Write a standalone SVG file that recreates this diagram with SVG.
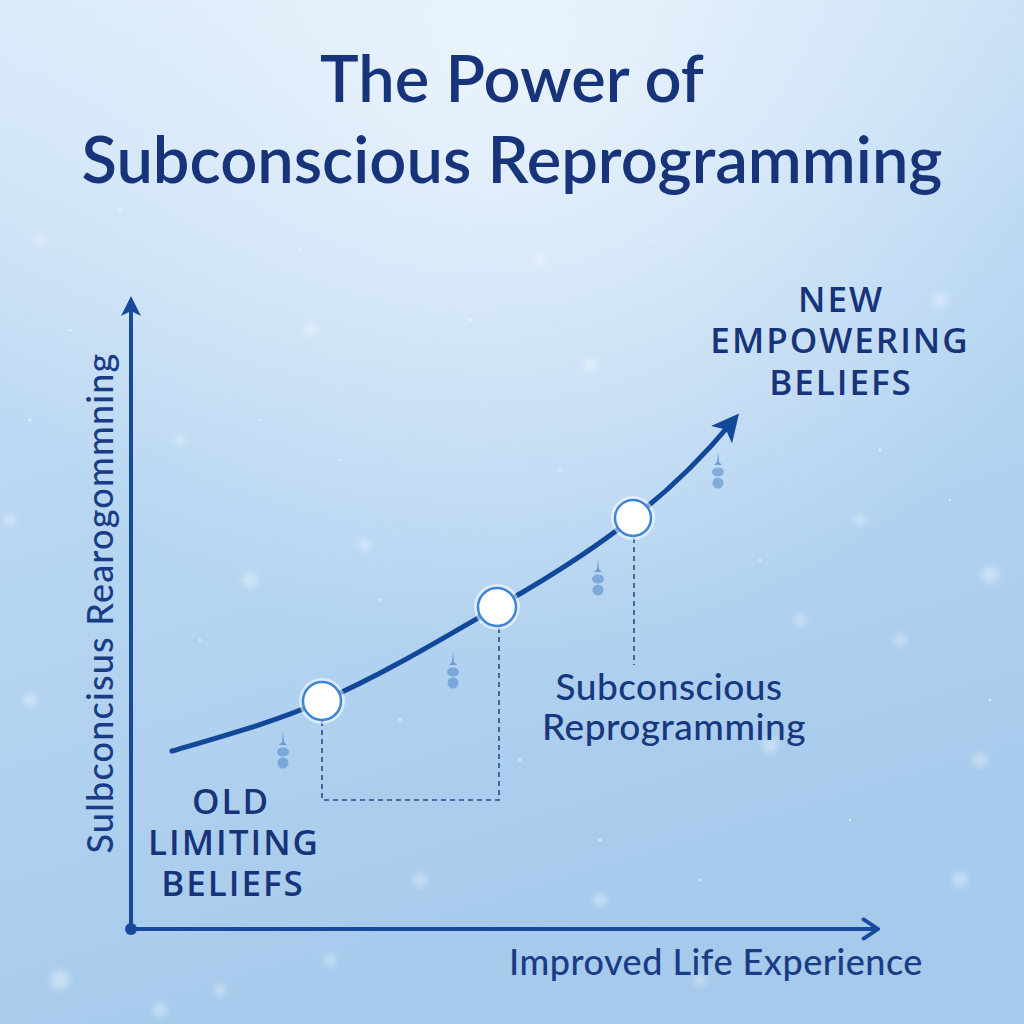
<svg xmlns="http://www.w3.org/2000/svg" width="1024" height="1024" viewBox="0 0 1024 1024">
<defs>
<linearGradient id="bg" x1="0" y1="0" x2="0.3" y2="1">
<stop offset="0" stop-color="#d8e9f9"/>
<stop offset="0.45" stop-color="#b9d7f2"/>
<stop offset="1" stop-color="#a6caec"/>
</linearGradient>
<radialGradient id="glowTop" cx="0.5" cy="0.05" r="0.6">
<stop offset="0" stop-color="#f2f8fe" stop-opacity="0.8"/>
<stop offset="1" stop-color="#f2f8fe" stop-opacity="0"/>
</radialGradient>
<filter id="blur" x="-50%" y="-50%" width="200%" height="200%"><feGaussianBlur stdDeviation="3"/></filter>
<marker id="tri" viewBox="0 0 10 10" refX="5" refY="5" markerWidth="5" markerHeight="5" orient="auto-start-reverse" markerUnits="strokeWidth">
<path d="M0,0 L10,5 L0,10 L2.5,5 Z" fill="#174a9c"/>
</marker>
<marker id="chev" viewBox="0 0 10 10" refX="9" refY="5" markerWidth="6" markerHeight="6" orient="auto" markerUnits="strokeWidth">
<path d="M3,1 L9,5 L3,9" fill="none" stroke="#174a9c" stroke-width="1.6" stroke-linecap="round"/>
</marker>
<marker id="curveHead" viewBox="0 0 10 10" refX="6" refY="5" markerWidth="5.5" markerHeight="5.5" orient="auto" markerUnits="strokeWidth">
<path d="M0,0 L10,5 L0,10 L2.5,5 Z" fill="#12489a"/>
</marker>
<g id="drop">
<path d="M0,-16 L1,-6 L4,-3 L-4,-3 L-1,-6 Z" fill="#4f86c8" opacity="0.7"/>
<ellipse cx="0" cy="4" rx="6" ry="4.5" fill="#4f86c8" opacity="0.55"/>
<circle cx="0" cy="15" r="5.5" fill="#4f86c8" opacity="0.55"/>
</g>
</defs>
<style>
.title{font-family:Lato,"Open Sans","Liberation Sans",sans-serif;font-weight:600;font-size:65px;fill:#17337a;text-anchor:middle}
.cap{font-family:"Open Sans","Liberation Sans",sans-serif;font-weight:600;font-size:35px;letter-spacing:2px;fill:#17337a;text-anchor:middle}
.lbl{font-family:Lato,"Open Sans","Liberation Sans",sans-serif;font-weight:500;font-size:37px;letter-spacing:0.5px;fill:#17377f;text-anchor:middle}
.axis{font-family:Lato,"Open Sans","Liberation Sans",sans-serif;font-weight:500;font-size:36px;fill:#1a3c86}
.ax{stroke:#174a9c;stroke-width:4;fill:none}
.dash{stroke:#2a4b8a;stroke-width:1.6;stroke-dasharray:5 4;fill:none}
.node circle.ring{fill:#ffffff;stroke:#3d86d6;stroke-width:2.5}
.node circle.halo{fill:#ffffff;opacity:0.55}
</style>

<rect width="1024" height="1024" fill="url(#bg)"/>
<rect width="1024" height="1024" fill="url(#glowTop)"/>
<g fill="#ffffff" opacity="0.35" filter="url(#blur)">
<circle cx="40" cy="240" r="6"/><circle cx="250" cy="580" r="8"/><circle cx="365" cy="545" r="6"/>
<circle cx="590" cy="365" r="7"/><circle cx="770" cy="745" r="8"/><circle cx="990" cy="575" r="9"/>
<circle cx="860" cy="520" r="6"/><circle cx="420" cy="880" r="7"/><circle cx="60" cy="980" r="10"/>
<circle cx="960" cy="880" r="8"/><circle cx="700" cy="980" r="6"/><circle cx="30" cy="700" r="7"/>
<circle cx="540" cy="260" r="6"/><circle cx="310" cy="330" r="6"/><circle cx="940" cy="300" r="7"/>
<circle cx="180" cy="440" r="5"/><circle cx="800" cy="620" r="6"/><circle cx="220" cy="990" r="6"/>
<circle cx="10" cy="520" r="6"/><circle cx="600" cy="900" r="7"/><circle cx="980" cy="760" r="7"/>
<circle cx="160" cy="1010" r="7"/><circle cx="330" cy="960" r="6"/><circle cx="900" cy="640" r="6"/>
</g>
<g fill="#ffffff" opacity="0.55">
<circle cx="120" cy="210" r="1.5"/><circle cx="300" cy="250" r="1.2"/><circle cx="470" cy="320" r="1.4"/>
<circle cx="650" cy="240" r="1.2"/><circle cx="880" cy="450" r="1.5"/><circle cx="760" cy="560" r="1.3"/>
<circle cx="400" cy="720" r="1.4"/><circle cx="600" cy="840" r="1.5"/><circle cx="850" cy="820" r="1.2"/>
<circle cx="200" cy="640" r="1.3"/><circle cx="990" cy="700" r="1.4"/><circle cx="30" cy="420" r="1.5"/>
<circle cx="340" cy="460" r="1.2"/><circle cx="560" cy="470" r="1.3"/><circle cx="900" cy="960" r="1.4"/>
<circle cx="70" cy="330" r="1.3"/><circle cx="260" cy="420" r="1.2"/><circle cx="520" cy="760" r="1.4"/>
<circle cx="700" cy="880" r="1.3"/><circle cx="950" cy="500" r="1.2"/><circle cx="380" cy="600" r="1.3"/>
</g>

<text class="title" x="512" y="102">The Power of</text>
<text class="title" x="512" y="183">Subconscious Reprogramming</text>

<g id="connectors">
<line class="ax" x1="131" y1="929" x2="131" y2="306" marker-end="url(#tri)"/>
<line class="ax" x1="131" y1="929" x2="878" y2="929" marker-end="url(#chev)"/>
<circle cx="131" cy="929" r="6" fill="#174a9c"/>
<path d="M172,751 C230,734 280,720 322,701 C380,676 440,640 497,607 C545,580 590,552 633,518 C672,488 703,457 732,422" fill="none" stroke="#12489a" stroke-width="5" stroke-linecap="round" marker-end="url(#curveHead)"/>
<path class="dash" d="M322,721 V800 H499 V627"/>
<path class="dash" d="M634,538 V665"/>
</g>

<g id="drops">
<use href="#drop" x="283" y="748"/>
<use href="#drop" x="453" y="668"/>
<use href="#drop" x="598" y="575"/>
<use href="#drop" x="718" y="468"/>
</g>

<g id="node-old" class="node">
<circle class="halo" cx="322" cy="701" r="23"/>
<circle class="ring" cx="322" cy="701" r="19"/>
</g>
<g id="node-mid" class="node">
<circle class="halo" cx="497" cy="607" r="23"/>
<circle class="ring" cx="497" cy="607" r="19"/>
</g>
<g id="node-new" class="node">
<circle class="halo" cx="633" cy="518" r="22"/>
<circle class="ring" cx="633" cy="518" r="18"/>
</g>

<g id="label-new">
<text class="cap"><tspan x="841" y="312">NEW</tspan><tspan x="840" y="353">EMPOWERING</tspan><tspan x="841" y="395">BELIEFS</tspan></text>
</g>
<g id="label-old">
<text class="cap"><tspan x="231" y="814">OLD</tspan><tspan x="234" y="855">LIMITING</tspan><tspan x="233" y="896">BELIEFS</tspan></text>
</g>
<g id="label-mid">
<text class="lbl"><tspan x="669" y="700">Subconscious</tspan><tspan x="674" y="740">Reprogramming</tspan></text>
</g>
<text class="axis" x="509" y="975" letter-spacing="0.5">Improved Life Experience</text>
<text class="axis" transform="translate(113,603) rotate(-90)" text-anchor="middle" letter-spacing="1.2">Sulbconcisus Rearogommning</text>
</svg>
